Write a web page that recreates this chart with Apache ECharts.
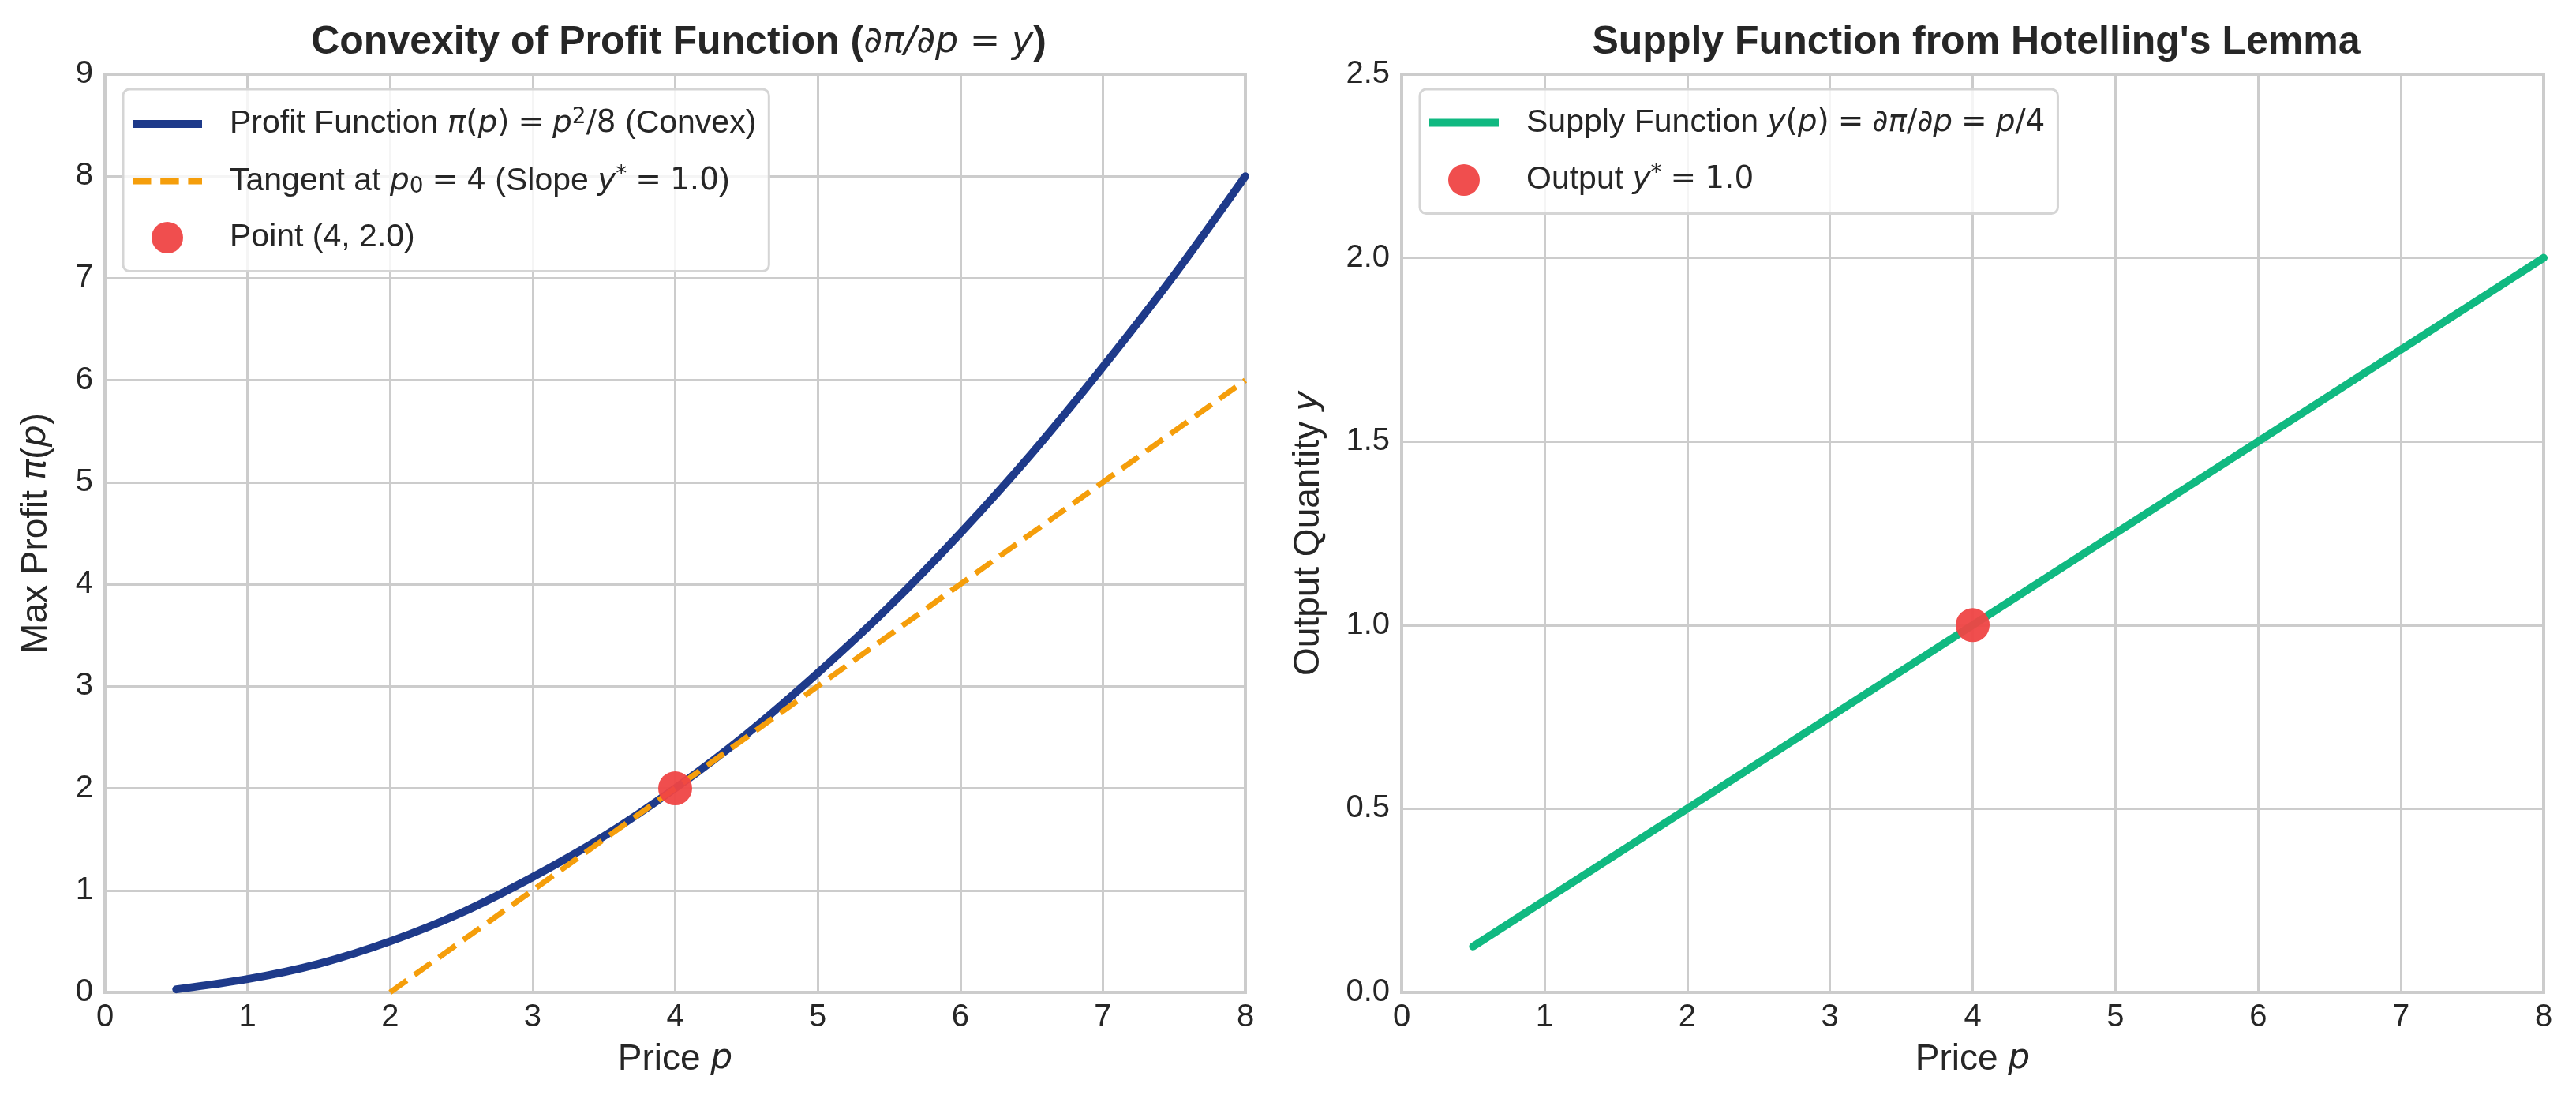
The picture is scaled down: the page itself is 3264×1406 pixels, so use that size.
<!DOCTYPE html>
<html>
<head>
<meta charset="utf-8">
<script src="https://cdn.jsdelivr.net/npm/echarts@6/dist/echarts.min.js"></script>
<style>
  html, body { margin: 0; padding: 0; background: #ffffff; }
  #chart { width: 3264px; height: 1406px; }
</style>
</head>
<body>
<div id="chart"></div>
<script>
// values
const profitP = [0.5, 1, 1.5, 2, 2.5, 3, 3.5, 4, 4.5, 5, 5.5, 6, 6.5, 7, 7.5, 8];
const profitVal = [0.03, 0.13, 0.28, 0.5, 0.78, 1.13, 1.53, 2.0, 2.53, 3.13, 3.78, 4.5, 5.28, 6.13, 7.03, 8.0];
const tangentP = [2, 8];
const tangentVal = [0, 6];
const supplyP = [0.5, 8];
const supplyVal = [0.125, 2.0];
const pointP = [4];
const pointProfit = [2.0];
const pointOutput = [1.0];
const xTicks = [0, 1, 2, 3, 4, 5, 6, 7, 8];

const FONT = "Liberation Sans";
const MATH = "DejaVu Sans";
const TEXT = "#262626";
const GRIDC = "#cccccc";

const pairs = (xs, ys) => xs.map((x, i) => [x, ys[i]]);

const italic = { fontStyle: "italic", fontFamily: MATH };
const legendRich = {
  gap: { width: 30 },
  i: { ...italic, fontSize: 39, color: TEXT },
  m: { fontFamily: MATH, fontSize: 39, color: TEXT },
  eq: { fontFamily: MATH, fontSize: 39, color: TEXT, padding: [0, 11, 0, 11] },
  sup: { fontSize: 28, color: TEXT, fontFamily: MATH, verticalAlign: "top", padding: [0, 0, 16, 0] },
  sub: { fontSize: 28, color: TEXT, fontFamily: MATH, padding: [14, 0, 0, 0] },
};

const legendText = {
  profit: "Profit Function {i|π}{m|(}{i|p}{m|)}{eq|=}{i|p}{sup|2}{m|/8} (Convex)",
  tangent: "Tangent at {i|p}{sub|0}{eq|=}{m|4} (Slope {i|y}{sup|*}{eq|=}{m|1.0})",
  point: "Point (4, 2.0)",
  supply: "Supply Function {i|y}{m|(}{i|p}{m|)}{eq|=}{i|∂π}{m|/}{i|∂p}{eq|=}{i|p}{m|/4}",
  output: "Output {i|y}{sup|*}{eq|=}{m|1.0}",
};
const nameKey = {
  "Profit Function": "profit",
  "Tangent": "tangent",
  "Point": "point",
  "Supply Function": "supply",
  "Output": "output",
};

const solidIcon = "path://M0,0h90v10h-90z";
const dashIcon = "path://M0,0h24v8h-24z M36,0h24v8h-24z M72,0h18v8h-18z";

const makeLegend = (items, left) => ({
  data: items,
  orient: "vertical",
  left: left,
  top: 113,
  itemWidth: 88,
  itemHeight: 40,
  itemGap: 30,
  padding: [22, 16, 22, 12],
  itemStyle: { borderWidth: 0 },
  backgroundColor: "rgba(255,255,255,0.8)",
  borderColor: "#d5d5d5",
  borderWidth: 3,
  borderRadius: 8,
  textStyle: { fontSize: 41, color: TEXT, fontFamily: FONT, rich: legendRich },
  formatter: (n) => "{gap| }" + legendText[nameKey[n]],
});

const xAxisFor = (gridIndex) => ({
  type: "value",
  gridIndex,
  min: 0,
  max: 8,
  interval: 1,
  name: "Price {i|p}",
  nameLocation: "middle",
  nameGap: 62,
  nameTextStyle: { fontSize: 46, color: TEXT, fontFamily: FONT, rich: { i: { ...italic, fontSize: 44, color: TEXT } } },
  axisLine: { show: false },
  axisTick: { show: false },
  axisLabel: {
    fontSize: 40, color: TEXT, fontFamily: FONT, margin: 12,
    formatter: (v) => (xTicks.includes(v) ? String(v) : ""),
  },
  splitLine: { show: true, lineStyle: { color: GRIDC, width: 3 } },
});

const option = {
  backgroundColor: "#ffffff",
  animation: false,
  title: [
    {
      text: "Convexity of Profit Function ({m|∂π/∂p = y})",
      left: 855,
      top: 24,
      textAlign: "center",
      textStyle: {
        fontSize: 50, fontWeight: "bold", color: TEXT, fontFamily: FONT,
        rich: { m: { ...italic, fontWeight: "normal", fontSize: 46, color: TEXT } },
      },
    },
    {
      text: "Supply Function from Hotelling's Lemma",
      left: 2499,
      top: 24,
      textAlign: "center",
      textStyle: { fontSize: 50, fontWeight: "bold", color: TEXT, fontFamily: FONT },
    },
  ],
  legend: [
    makeLegend([
      { name: "Profit Function", icon: solidIcon },
      { name: "Tangent", icon: dashIcon },
      { name: "Point", icon: "circle" },
    ], 156),
    makeLegend([
      { name: "Supply Function", icon: solidIcon },
      { name: "Output", icon: "circle" },
    ], 1799),
  ],
  grid: [
    { left: 133, top: 94, width: 1445, height: 1163, show: true, borderColor: GRIDC, borderWidth: 4 },
    { left: 1776, top: 94, width: 1447, height: 1163, show: true, borderColor: GRIDC, borderWidth: 4 },
  ],
  xAxis: [xAxisFor(0), xAxisFor(1)],
  yAxis: [
    {
      type: "value",
      gridIndex: 0,
      min: 0,
      max: 9,
      interval: 1,
      name: "Max Profit {i|π}({i|p})",
      nameLocation: "middle",
      nameGap: 64,
      nameTextStyle: { fontSize: 46, color: TEXT, fontFamily: FONT, rich: { i: { ...italic, fontSize: 44, color: TEXT } } },
      axisLine: { show: false },
      axisTick: { show: false },
      axisLabel: { fontSize: 40, color: TEXT, fontFamily: FONT, margin: 15 },
      splitLine: { show: true, lineStyle: { color: GRIDC, width: 3 } },
    },
    {
      type: "value",
      gridIndex: 1,
      min: 0,
      max: 2.5,
      interval: 0.5,
      name: "Output Quantity {i|y}",
      nameLocation: "middle",
      nameGap: 95,
      nameTextStyle: { fontSize: 46, color: TEXT, fontFamily: FONT, rich: { i: { ...italic, fontSize: 44, color: TEXT } } },
      axisLine: { show: false },
      axisTick: { show: false },
      axisLabel: { fontSize: 40, color: TEXT, fontFamily: FONT, margin: 15, formatter: (v) => v.toFixed(1) },
      splitLine: { show: true, lineStyle: { color: GRIDC, width: 3 } },
    },
  ],
  series: [
    {
      name: "Profit Function",
      type: "line",
      xAxisIndex: 0,
      yAxisIndex: 0,
      data: pairs(profitP, profitVal),
      smooth: 0.3,
      symbol: "none",
      lineStyle: { color: "#1e3a8a", width: 10, cap: "round" },
      itemStyle: { color: "#1e3a8a" },
      z: 2,
    },
    {
      name: "Tangent",
      type: "line",
      xAxisIndex: 0,
      yAxisIndex: 0,
      data: pairs(tangentP, tangentVal),
      symbol: "none",
      lineStyle: { color: "#f59e0b", width: 7, type: [26, 12] },
      itemStyle: { color: "#f59e0b" },
      z: 3,
    },
    {
      name: "Point",
      type: "scatter",
      xAxisIndex: 0,
      yAxisIndex: 0,
      data: pairs(pointP, pointProfit),
      symbol: "circle",
      symbolSize: 43,
      itemStyle: { color: "#ef4444", opacity: 0.95 },
      z: 5,
    },
    {
      name: "Supply Function",
      type: "line",
      xAxisIndex: 1,
      yAxisIndex: 1,
      data: pairs(supplyP, supplyVal),
      symbol: "none",
      lineStyle: { color: "#10b981", width: 10, cap: "round" },
      itemStyle: { color: "#10b981" },
      z: 2,
    },
    {
      name: "Output",
      type: "scatter",
      xAxisIndex: 1,
      yAxisIndex: 1,
      data: pairs(pointP, pointOutput),
      symbol: "circle",
      symbolSize: 43,
      itemStyle: { color: "#ef4444", opacity: 0.95 },
      z: 5,
    },
  ],
};

const chart = echarts.init(document.getElementById("chart"));
chart.setOption(option);
</script>
</body>
</html>
